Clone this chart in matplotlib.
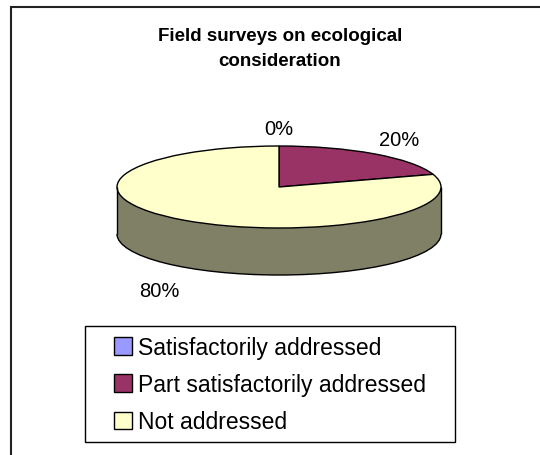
import numpy as np
import matplotlib.pyplot as plt
from matplotlib.patches import Patch, Rectangle, Arc

plt.rcParams['font.family'] = ['Liberation Sans', 'DejaVu Sans']

# Data
categories = ['Satisfactorily addressed', 'Part satisfactorily addressed', 'Not addressed']
shares = [0, 20, 80]
pct_labels = ['0%', '20%', '80%']
top_colors = ['#9999FF', '#993366', '#FFFFCC']
side_colors = ['#4D4D80', '#4D1A33', '#808066']

title = 'Field surveys on ecological\nconsideration'

W, H = 540, 456
CX, CY = 279, 268          # pie centre in pixels (from bottom-left)
RX, RY = 162, 41           # ellipse radii in pixels
DEPTH = 47 / RY            # thickness of the disc in data units

fig = plt.figure(figsize=(W / 100, H / 100), dpi=100)

# pie axes: x/y scaled differently so the unit circle becomes a flat ellipse
ax_w, ax_h_lo, ax_h_hi = 200, 160, 70
ax = fig.add_axes([(CX - ax_w) / W, (CY - ax_h_lo) / H, 2 * ax_w / W, (ax_h_lo + ax_h_hi) / H])

# side wall: stack of darker pies shifted downward
for d in np.linspace(DEPTH, 0.01, 60):
    ax.pie(shares, colors=side_colors, startangle=90, counterclock=False,
           center=(0, -d), radius=1, wedgeprops=dict(linewidth=0))

# outline of the wall
ax.add_patch(Arc((0, -DEPTH), 2, 2, theta1=180, theta2=360, color='black', lw=1))
ax.vlines([-1, 1], -DEPTH, 0, color='black', lw=1)

# top face
wedges, _ = ax.pie(shares, colors=top_colors, startangle=90, counterclock=False,
                   center=(0, 0), radius=1,
                   wedgeprops=dict(edgecolor='black', linewidth=1))

# percentage labels around the disc
for w, lab in zip(wedges, pct_labels):
    mid = np.deg2rad((w.theta1 + w.theta2) / 2)
    x = 1.26 * np.cos(mid)
    y = 1.42 * np.sin(mid)
    if np.sin(mid) < 0:
        y -= DEPTH + 0.22
    ax.text(x, y, lab, ha='center', va='center', fontsize=14.5)

ax.set_aspect('auto')
ax.set_xlim(-ax_w / RX, ax_w / RX)
ax.set_ylim(-ax_h_lo / RY, ax_h_hi / RY)
ax.axis('off')

# title
fig.text(280 / W, 1 - 49 / H, title, ha='center', va='center',
         fontsize=13.5, fontweight='bold', linespacing=1.55)

# legend with its own box
handles = [Patch(facecolor=c, edgecolor='black', linewidth=1) for c in top_colors]
fig.legend(handles, categories, loc='upper left',
           bbox_to_anchor=(114 / W, 1 - 337 / H), frameon=False,
           fontsize=16.5, handlelength=0.8, handleheight=0.8,
           handletextpad=0.25, labelspacing=0.62, borderpad=0, borderaxespad=0)
fig.add_artist(Rectangle((85 / W, 13 / H), 370 / W, 116 / H, transform=fig.transFigure,
                         fill=False, edgecolor='black', lw=1))

# chart area frame (only top and left edges fall inside the image)
fig.add_artist(Rectangle((11 / W, -0.1), 1.2, (H - 8) / H + 0.1, transform=fig.transFigure,
                         fill=False, edgecolor='#222222', lw=1.5))

plt.savefig('out.png', dpi=100)
